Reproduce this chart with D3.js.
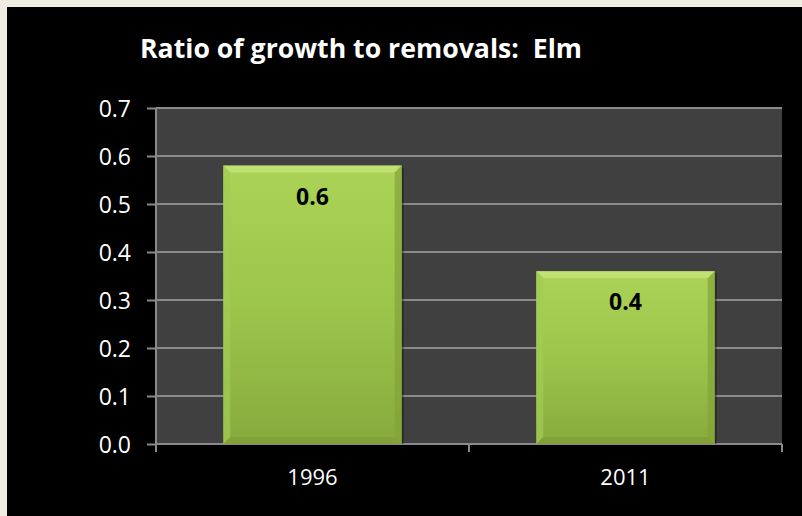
<!DOCTYPE html>
<html>
<head>
<meta charset="utf-8">
<title>Ratio of growth to removals: Elm</title>
<style>
  html, body { margin: 0; padding: 0; background: #efece2; }
  svg { display: block; }
</style>
</head>
<body>
<div id="chart"></div>
<script src="https://cdn.jsdelivr.net/npm/d3@7"></script>
<script>
// data
var categories = ['1996', '2011'];
var ratios = [0.58, 0.36];
var yTicks = [0.0, 0.1, 0.2, 0.3, 0.4, 0.5, 0.6, 0.7];
var titleText = 'Ratio of growth to removals:  Elm';

var width = 802, height = 516;
var plot = { left: 156, right: 782, top: 108, bottom: 444 };
var font = "'Open Sans', 'DejaVu Sans', sans-serif";

var svg = d3.select('#chart').append('svg')
  .attr('width', width)
  .attr('height', height);

// black panel on beige page
svg.append('rect')
  .attr('x', 7).attr('y', 7)
  .attr('width', width - 7).attr('height', height - 7)
  .attr('fill', '#000');

var defs = svg.append('defs');
var grad = defs.append('linearGradient')
  .attr('id', 'barFill')
  .attr('x1', 0).attr('y1', 0).attr('x2', 0).attr('y2', 1);
grad.append('stop').attr('offset', '0%').attr('stop-color', '#abd357');
grad.append('stop').attr('offset', '50%').attr('stop-color', '#9cc54b');
grad.append('stop').attr('offset', '100%').attr('stop-color', '#88aa3e');

var x = d3.scaleBand()
  .domain(categories)
  .range([plot.left, plot.right])
  .paddingInner(0.43)
  .paddingOuter(0.215);

var y = d3.scaleLinear()
  .domain([0, 0.7])
  .range([plot.bottom, plot.top]);

// plot area
svg.append('rect')
  .attr('x', plot.left).attr('y', plot.top)
  .attr('width', plot.right - plot.left)
  .attr('height', plot.bottom - plot.top)
  .attr('fill', '#404040');

// gridlines
svg.append('g')
  .selectAll('line')
  .data(yTicks.filter(function(d){ return d > 0; }))
  .enter()
  .append('line')
  .attr('x1', plot.left).attr('x2', plot.right)
  .attr('y1', function(d){ return y(d); })
  .attr('y2', function(d){ return y(d); })
  .attr('stroke', '#8a8a8a')
  .attr('stroke-width', 2);

// y axis
var yAxis = svg.append('g')
  .attr('transform', 'translate(' + plot.left + ',0)')
  .call(d3.axisLeft(y).tickValues(yTicks).tickFormat(d3.format('.1f')).tickSize(9).tickPadding(16));
yAxis.select('.domain').remove();
yAxis.append('line')
  .attr('x1', 0).attr('x2', 0)
  .attr('y1', plot.top).attr('y2', plot.bottom + 8)
  .attr('stroke', '#8a8a8a').attr('stroke-width', 2);
yAxis.selectAll('.tick line').attr('stroke', '#8a8a8a').attr('stroke-width', 2);
yAxis.selectAll('.tick text')
  .attr('fill', '#fff')
  .attr('font-family', font)
  .attr('font-size', 23)
  .attr('dy', '0.36em');

// x axis
var xAxis = svg.append('g')
  .attr('transform', 'translate(0,' + plot.bottom + ')')
  .call(d3.axisBottom(x).tickSize(0).tickPadding(25));
xAxis.select('.domain').remove();
xAxis.selectAll('.tick text')
  .attr('fill', '#fff')
  .attr('font-family', font)
  .attr('font-size', 22);
xAxis.append('line')
  .attr('x1', plot.left).attr('x2', plot.right)
  .attr('y1', 0).attr('y2', 0)
  .attr('stroke', '#8a8a8a').attr('stroke-width', 2);
// category boundary ticks
var step = x.step();
xAxis.selectAll('.bound')
  .data(d3.range(categories.length + 1))
  .enter()
  .append('line')
  .attr('x1', function(i){ return plot.left + i * step; })
  .attr('x2', function(i){ return plot.left + i * step; })
  .attr('y1', 0).attr('y2', 8)
  .attr('stroke', '#8a8a8a').attr('stroke-width', 2);

// bars with bevel
var bev = 7;
var bars = svg.append('g')
  .selectAll('g')
  .data(categories.map(function(c, i){ return { cat: c, v: ratios[i] }; }))
  .enter()
  .append('g');

bars.append('rect')
  .attr('x', function(d){ return x(d.cat) + 2; })
  .attr('y', function(d){ return y(d.v) + 2; })
  .attr('width', x.bandwidth())
  .attr('height', function(d){ return y(0) - y(d.v) - 2; })
  .attr('fill', 'rgba(0,0,0,0.35)');

bars.append('rect')
  .attr('x', function(d){ return x(d.cat); })
  .attr('y', function(d){ return y(d.v); })
  .attr('width', x.bandwidth())
  .attr('height', function(d){ return y(0) - y(d.v); })
  .attr('fill', 'url(#barFill)');

function bevelPoly(d, side) {
  var x0 = x(d.cat), x1 = x0 + x.bandwidth();
  var y0 = y(d.v), y1 = y(0);
  if (side === 'top') return [[x0, y0], [x1, y0], [x1 - bev, y0 + bev], [x0 + bev, y0 + bev]];
  if (side === 'bottom') return [[x0, y1], [x1, y1], [x1 - bev, y1 - bev], [x0 + bev, y1 - bev]];
  if (side === 'left') return [[x0, y0], [x0 + bev, y0 + bev], [x0 + bev, y1 - bev], [x0, y1]];
  return [[x1, y0], [x1 - bev, y0 + bev], [x1 - bev, y1 - bev], [x1, y1]];
}
var bevelColors = { top: '#c9e77f', left: '#a3cc52', right: '#83a238', bottom: '#7f9c36' };
['top', 'left', 'right', 'bottom'].forEach(function(side){
  bars.append('polygon')
    .attr('points', function(d){ return bevelPoly(d, side).join(' '); })
    .attr('fill', bevelColors[side])
    .attr('opacity', 0.7);
});

// value labels
bars.append('text')
  .attr('x', function(d){ return x(d.cat) + x.bandwidth() / 2; })
  .attr('y', function(d){ return y(d.v) + 39; })
  .attr('text-anchor', 'middle')
  .attr('font-family', font)
  .attr('font-weight', 'bold')
  .attr('font-size', 23)
  .attr('fill', '#000')
  .text(function(d){ return d3.format('.1f')(d.v); });

// title
var title = svg.append('text')
  .attr('x', 140)
  .attr('y', 58)
  .attr('font-family', font)
  .attr('font-weight', 'bold')
  .attr('font-size', 27)
  .attr('fill', '#fff')
  .style('white-space', 'pre')
  .attr('xml:space', 'preserve')
  .text(titleText);
var tw = title.node().getComputedTextLength();
if (tw > 442) title.attr('textLength', 442).attr('lengthAdjust', 'spacingAndGlyphs');
</script>
</body>
</html>
